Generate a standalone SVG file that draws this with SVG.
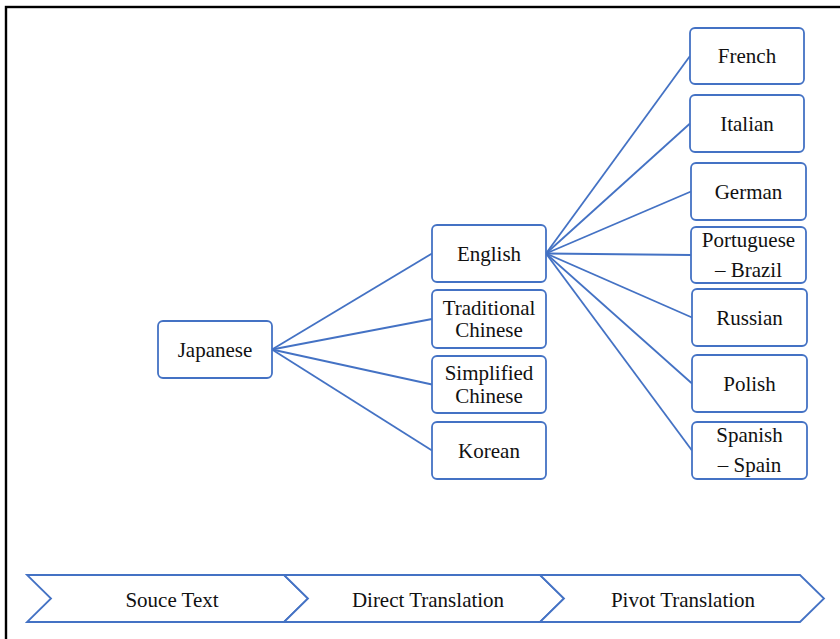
<svg xmlns="http://www.w3.org/2000/svg" width="840" height="639" viewBox="0 0 840 639">
<style>
.box{fill:#fff;stroke:#4472C4;stroke-width:1.8}
.lbl{font-family:"Liberation Serif","Times New Roman",serif;font-size:21px;fill:#111;text-anchor:middle}
.con{stroke:#4472C4;stroke-width:1.8;fill:none}
.chev{fill:#fff;stroke:#4472C4;stroke-width:1.8;stroke-linejoin:miter}
</style>
<rect x="0" y="0" width="840" height="639" fill="#fff"/>
<rect x="6" y="7" width="900" height="700" fill="none" stroke="#000" stroke-width="2.4"/>
<g id="connectors">
<line class="con" x1="272" y1="349.5" x2="432" y2="253.5"/>
<line class="con" x1="272" y1="349.5" x2="432" y2="319"/>
<line class="con" x1="272" y1="349.5" x2="432" y2="384.5"/>
<line class="con" x1="272" y1="349.5" x2="432" y2="450.5"/>
<line class="con" x1="546" y1="253.5" x2="690" y2="56"/>
<line class="con" x1="546" y1="253.5" x2="690" y2="123.5"/>
<line class="con" x1="546" y1="253.5" x2="691" y2="191.5"/>
<line class="con" x1="546" y1="253.5" x2="691" y2="255"/>
<line class="con" x1="546" y1="253.5" x2="692" y2="317.5"/>
<line class="con" x1="546" y1="253.5" x2="692" y2="383.5"/>
<line class="con" x1="546" y1="253.5" x2="692" y2="450.5"/>
</g>
<g id="japanese"><rect class="box" x="158" y="321" width="114" height="57" rx="5"/><text class="lbl" x="215" y="356.5">Japanese</text></g>
<g id="english"><rect class="box" x="432" y="225" width="114" height="57" rx="5"/><text class="lbl" x="489" y="260.5">English</text></g>
<g id="traditional-chinese"><rect class="box" x="432" y="290" width="114" height="58" rx="5"/><text class="lbl" x="489" y="314.5">Traditional</text><text class="lbl" x="489" y="337">Chinese</text></g>
<g id="simplified-chinese"><rect class="box" x="432" y="356" width="114" height="57" rx="5"/><text class="lbl" x="489" y="380">Simplified</text><text class="lbl" x="489" y="402.5">Chinese</text></g>
<g id="korean"><rect class="box" x="432" y="422" width="114" height="57" rx="5"/><text class="lbl" x="489" y="457.5">Korean</text></g>
<g id="french"><rect class="box" x="690" y="28" width="114" height="56" rx="5"/><text class="lbl" x="747" y="63">French</text></g>
<g id="italian"><rect class="box" x="690" y="95" width="114" height="57" rx="5"/><text class="lbl" x="747" y="130.5">Italian</text></g>
<g id="german"><rect class="box" x="691" y="163" width="115" height="57" rx="5"/><text class="lbl" x="748.5" y="198.5">German</text></g>
<g id="portuguese-brazil"><rect class="box" x="691" y="227" width="115" height="56" rx="5"/><text class="lbl" x="748.5" y="247">Portuguese</text><text class="lbl" x="748.5" y="277">– Brazil</text></g>
<g id="russian"><rect class="box" x="692" y="289" width="115" height="57" rx="5"/><text class="lbl" x="749.5" y="324.5">Russian</text></g>
<g id="polish"><rect class="box" x="692" y="355" width="115" height="57" rx="5"/><text class="lbl" x="749.5" y="390.5">Polish</text></g>
<g id="spanish-spain"><rect class="box" x="692" y="422" width="115" height="57" rx="5"/><text class="lbl" x="749.5" y="442">Spanish</text><text class="lbl" x="749.5" y="472">– Spain</text></g>
<g id="stage-source"><polygon class="chev" points="27,575 284,575 308,598.5 284,622 27,622 51,598.5"/><text class="lbl" x="172" y="606.5">Souce Text</text></g>
<g id="stage-direct"><polygon class="chev" points="284,575 540,575 564,598.5 540,622 284,622 308,598.5"/><text class="lbl" x="428" y="606.5">Direct Translation</text></g>
<g id="stage-pivot"><polygon class="chev" points="540,575 800,575 824,598.5 800,622 540,622 564,598.5"/><text class="lbl" x="683" y="606.5">Pivot Translation</text></g>
</svg>
